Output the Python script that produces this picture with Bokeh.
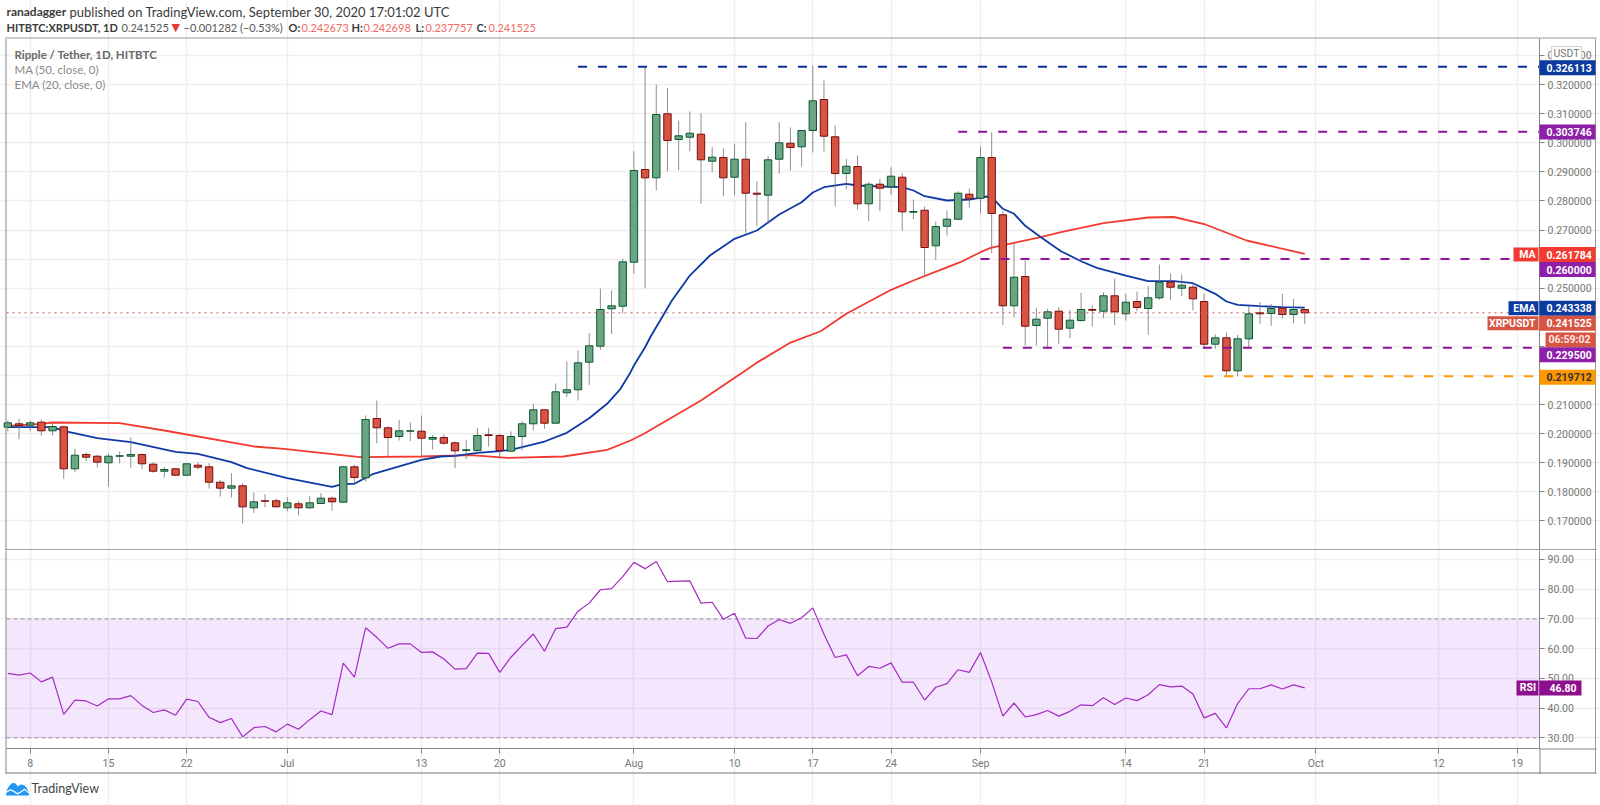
from bokeh.plotting import figure
from bokeh.layouts import column
from bokeh.models import Range1d, FixedTicker, Label, BoxAnnotation, PolyAnnotation, NumeralTickFormatter
from bokeh.embed import file_html
from bokeh.resources import INLINE

# ---- data: day number 0 = 8 June 2020 ----
first_day = -2
opens = [.2022,.20337,.20289,.20392,.20096,.20234,.1879,.19281,.19223,.18996,.19223,.19223,.19281,.18948,.18707,.1879,.1857,.18914,.18858,.18329,.18123,.18205,.17449,.1769,.1769,.17449,.17587,.17449,.17597,.17779,
 .17642,.18858,.1848,.20519,.202,.199,.20083,.20083,.19808,.19866,.19684,.19419,.19419,.19959,.19935,.19395,.199,.20337,.20818,.20358,.21403,.21506,.22455,.23005,.24291,.2438,.25893,.2908,.28794,.30995,
 .30111,.3019,.30293,.29365,.29492,.28815,.29434,.28265,.28196,.29434,.29984,.2986,.30421,.31486,.30204,.28942,.29183,.279,.28574,.28485,.28815,.27612,.2768,.26457,.2713,.27371,.28231,.28093,.29492,.27522,
 .24394,.25401,.23716,.23967,.24208,.23624,.23888,.24267,.24208,.24738,.24119,.24542,.24301,.24669,.25205,.24999,.25033,.24542,.23074,.23294,.22159,.23259,.24153,.24129,.24311,.24095,.242673]
highs = [.2045,.20509,.2045,.20485,.20371,.20279,.19477,.1935,.19271,.19306,.19385,.19876,.19306,.19017,.18858,.18811,.18982,.19017,.18982,.18398,.18639,.18295,.17975,.17906,.17769,.17813,.17676,.17848,.17951,.17838,
 .18893,.18927,.20622,.21138,.20244,.20474,.20382,.20622,.19959,.1997,.19728,.19787,.202,.202,.19993,.20072,.20426,.21025,.20829,.21722,.22479,.22857,.23452,.24989,.2492,.2602,.29709,.32576,.32002,.31875,
 .30764,.31074,.31015,.29846,.29812,.29963,.30706,.28678,.29537,.30706,.30524,.30421,.32655,.3214,.30592,.29448,.29561,.28643,.2876,.29159,.28953,.28038,.27808,.27292,.2767,.28334,.28427,.2987,.30362,.27646,
 .26546,.25951,.24325,.24291,.24346,.24256,.24841,.24404,.24861,.25322,.24806,.24885,.25068,.25814,.25504,.2547,.25171,.24806,.23407,.23476,.23397,.24404,.24518,.24463,.24806,.24634,.242698]
lows = [.2008,.19808,.20083,.19924,.19935,.18446,.18673,.19051,.18835,.18181,.18982,.18824,.1879,.18652,.18491,.18549,.18549,.18756,.18113,.17838,.17803,.1691,.17277,.1747,.17459,.17332,.17195,.17415,.17573,.17346,
 .17621,.18274,.18353,.1967,.19223,.19763,.19739,.19189,.19453,.19615,.1881,.1912,.1934,.19557,.19189,.19385,.19419,.20107,.20165,.20347,.21252,.21138,.21678,.22881,.23431,.24139,.25494,.24999,.28358,.29021,
 .29056,.29709,.27901,.28987,.28162,.28196,.26869,.27131,.27213,.28932,.29045,.29183,.29664,.29699,.27818,.28403,.27705,.27302,.27646,.2821,.26972,.27371,.25411,.25975,.26811,.27361,.27763,.27557,.26202,.2374,
 .24002,.23029,.23029,.2295,.23087,.2328,.23854,.23682,.23967,.23727,.23888,.24208,.23397,.246,.246,.24724,.24232,.22936,.22916,.22008,.2197,.2295,.23775,.23706,.23957,.23795,.237757]
closes = [.2037,.20279,.20371,.20096,.20244,.1879,.19257,.19189,.19017,.19223,.19237,.19281,.18962,.18707,.18766,.1857,.18962,.18845,.18329,.18123,.18205,.17483,.17655,.17676,.17483,.17621,.17449,.17621,.17779,.17655,
 .18858,.18491,.20485,.202,.19866,.20096,.20096,.19842,.19866,.1967,.19409,.19443,.19935,.19935,.19419,.199,.20337,.20818,.20358,.21437,.21506,.22434,.23019,.24267,.24394,.25906,.29045,.28794,.30971,.30077,
 .30238,.30328,.29413,.29503,.28794,.29434,.28265,.28231,.29413,.29998,.29836,.30421,.31442,.30225,.28942,.29193,.279,.28574,.28437,.2885,.27625,.27636,.26398,.2712,.27371,.28265,.28072,.29492,.27567,.24394,
 .25377,.23692,.23933,.24187,.23589,.23899,.24267,.24243,.24738,.24187,.24518,.24335,.24669,.25205,.25033,.25102,.24634,.23074,.23294,.22159,.23259,.24119,.24119,.24301,.24095,.24267,.241525]

ema_days = [-2,2,3,6,9,13,15,18,19.4,23,27,28,29,30.7,35,36.7,38,40,42,43,46,48,50,51.6,52.8,53.7,54,55,55.5,57.4,59,60.8,63,65,67,69,70,71,73,74,76,78,79,80,82,84,85.6,86.3,87,88,89,90.4,92.2,94,95.4,98,100,102.3,104,106,107,108,110,112,114]
ema_vals = [.2022,.2022,.20096,.19842,.19704,.19374,.19306,.19017,.18811,.18467,.18171,.18274,.18274,.18618,.19099,.19213,.19237,.1934,.19395,.19443,.19728,.20027,.20529,.21025,.2154,.22111,.22341,.2297,.23338,.24576,.25435,.26123,.26697,.26983,.27533,.27956,.28289,.28471,.28588,.2853,.28495,.28471,.28358,.28162,.28014,.28048,.28152,.28014,.27729,.27557,.27144,.26752,.26271,.25927,.257,.25435,.2524,.2524,.25171,.24806,.24542,.24428,.2438,.24346,.24334]
ma_days = [-2,1,2,8,12,20,22.7,29.5,35,39.4,42.7,47.7,51.6,53.7,54.9,60,65,68,70.7,73,77,79,80.5,83.2,85,85.9,88,90.4,92.2,96,100,102.3,105,108.8,114]
ma_vals = [.20268,.20337,.20382,.20358,.20107,.19557,.19477,.19189,.19213,.19257,.19168,.19213,.19443,.19763,.19993,.21138,.2244,.2313,.2352,.24119,.24944,.25264,.25494,.25893,.26237,.26388,.2656,.26752,.26924,.2724,.2743,.27447,.27206,.26639,.261784]
rsi_vals = [51.7,51.1,51.8,48.8,50.4,37.9,42.7,42.4,40.7,43.1,43.1,44.2,40.9,38.5,39.4,37.6,43.0,42.2,36.9,35.1,36.5,30.3,33.4,33.8,32.0,34.6,32.9,36.1,39.0,37.8,
 55.1,50.4,67.0,63.8,60.1,61.6,61.6,58.7,58.9,56.5,53.1,53.3,58.5,58.4,52.0,57.1,61.1,64.9,59.1,66.7,67.2,72.6,75.3,79.8,80.2,84.2,89.0,86.9,89.3,82.5,
 82.7,82.8,75.3,75.6,69.9,71.9,63.5,63.4,67.6,69.8,68.5,70.4,73.7,64.8,57.0,57.9,50.9,54.0,53.4,55.2,48.7,48.7,42.7,47.0,48.2,52.9,52.0,58.7,48.8,37.3,
 41.7,37.0,37.8,39.2,37.3,38.9,41.1,40.8,43.5,41.2,43.4,42.5,44.5,47.9,47.1,47.4,44.7,36.7,38.2,33.3,41.5,46.5,46.5,47.8,46.4,47.8,46.8]

tick_days = [0,7,14,23,35,42,54,63,70,77,85,98,105,115,126,133]
tick_labels = ["8","15","22","Jul","13","20","Aug","10","17","24","Sep","14","21","Oct","12","19"]
price_ticks = [.17,.18,.19,.20,.21,.22,.23,.24,.25,.26,.27,.28,.29,.30,.31,.32,.33]
rsi_ticks = [30,40,50,60,70,80,90]
level_values = [.326113,.303746,.26,.2295,.219712]
level_start_days = [49,83,85,87,105]
level_colors = ["#0d2f9a","#8e1599","#8e1599","#8e1599","#ff9800"]
last_close = .241525

# ---- layout: page pixels; each frame fills its whole canvas, so that texts outside the panes are kept ----
F_L, F_R = 6, 1539
P_T, P_B, R_B = 38, 550, 748
XL, XR = -2.12, 135.0           # day at the pane's left edge and at the price axis
PB_V, PT_V = .15981, .33584     # price at the pane's bottom and top
RB_V, RT_V = 26.4, 93.0         # RSI at the pane's bottom and top
GRID, AXISC, TXT = "#efefef", "#868686", "#777777"
AXF = "Roboto"
LATO = "Lato"
AFS = "10.5px"
px_x = (XR - XL) / (F_R - F_L)
px_p = (PT_V - PB_V) / (P_B - P_T)
px_r = (RT_V - RB_V) / (R_B - P_B)
shared_x = Range1d(XL - F_L * px_x, XR + (1600 - F_R) * px_x)

price = figure(width=1600, height=P_B, output_backend="svg", toolbar_location=None,
    x_range=shared_x, y_range=Range1d(PB_V, PT_V + P_T * px_p),
    x_axis_location=None, y_axis_location="right",
    min_border_left=0, min_border_right=0, min_border_top=0, min_border_bottom=0)
rsi = figure(width=1600, height=805 - P_B, output_backend="svg", toolbar_location=None,
    x_range=shared_x, y_range=Range1d(RB_V - (805 - R_B) * px_r, RT_V),
    y_axis_location="right",
    min_border_left=0, min_border_right=0, min_border_top=0, min_border_bottom=0)

for f, ticks, yb in ((price, price_ticks, (PB_V, PT_V)), (rsi, rsi_ticks, (RB_V, RT_V))):
    f.background_fill_color = "white"
    f.border_fill_color = "white"
    f.outline_line_color = None
    f.xgrid.ticker = FixedTicker(ticks=tick_days)
    f.ygrid.ticker = FixedTicker(ticks=ticks)
    f.xgrid.grid_line_color = GRID
    f.ygrid.grid_line_color = GRID
    f.xgrid.grid_line_width = 1.5
    f.ygrid.grid_line_width = 1.5
    f.xgrid.bounds = yb
    f.ygrid.bounds = (XL, XR)
    ax = f.yaxis[0]
    ax.fixed_location = XR
    ax.bounds = yb
    ax.ticker = FixedTicker(ticks=ticks)
    ax.axis_line_color = AXISC
    ax.major_tick_line_color = AXISC
    ax.minor_tick_line_color = None
    ax.major_tick_in = 0
    ax.major_tick_out = 5
    ax.major_label_text_color = TXT
    ax.major_label_text_font = AXF
    ax.major_label_text_font_size = AFS
    ax.major_label_standoff = 3
price.yaxis[0].formatter = NumeralTickFormatter(format="0.000000")
rsi.yaxis[0].formatter = NumeralTickFormatter(format="0.00")

xa = rsi.xaxis[0]
xa.fixed_location = RB_V
xa.bounds = (XL, XR)
xa.ticker = FixedTicker(ticks=tick_days)
xa.major_label_overrides = {d: t for d, t in zip(tick_days, tick_labels)}
xa.axis_line_color = AXISC
xa.major_tick_line_color = AXISC
xa.minor_tick_line_color = None
xa.major_tick_in = 0
xa.major_tick_out = 5
xa.major_label_text_color = TXT
xa.major_label_text_font = AXF
xa.major_label_text_font_size = AFS
xa.major_label_standoff = 3

# ---- indicators under the candles ----
days = [first_day + i for i in range(len(closes))]
price.line(ma_days, ma_vals, line_color="#f23a30", line_width=1.8)
price.line(ema_days, ema_vals, line_color="#0f3aa5", line_width=1.8)

# ---- candles ----
up = [c >= o for o, c in zip(opens, closes)]
price.segment(days, highs, days, lows, line_color="#737375", line_width=1, line_alpha=0.8)
gd = [d for d, u in zip(days, up) if u]
rd = [d for d, u in zip(days, up) if not u]
price.vbar(gd, 0.66, [o for o, u in zip(opens, up) if u], [c for c, u in zip(closes, up) if u],
           fill_color="#6ba583", line_color="#0a5a30", line_width=1)
price.vbar(rd, 0.66, [o for o, u in zip(opens, up) if not u], [c for c, u in zip(closes, up) if not u],
           fill_color="#d75442", line_color="#7a0c0c", line_width=1)

# ---- levels ----
price.line([XL, XR], [last_close, last_close], line_color="#c9554a", line_dash="dotted", line_width=1)
for v, s, c in zip(level_values, level_start_days, level_colors):
    price.line([s, XR], [v, v], line_color=c, line_width=2, line_dash=[9, 11])

def scr(fig, bottom_px):
    def box(x0, x1, y0, y1, color, border=None):
        fig.add_layout(BoxAnnotation(left=x0, right=x1, top=bottom_px-y0, bottom=bottom_px-y1,
            left_units="screen", right_units="screen", top_units="screen", bottom_units="screen",
            fill_color=color, fill_alpha=1, line_color=border, line_alpha=1 if border else 0))
    def txt(x, y, s, color="#ffffff", size=AFS, font=AXF, style="normal", align="left"):
        fig.add_layout(Label(x=x, y=bottom_px-y, x_units="screen", y_units="screen", text=s,
            text_color=color, text_font=font, text_font_size=size, text_font_style=style,
            text_align=align, text_baseline="middle"))
    return box, txt

pbox, ptxt = scr(price, P_B)
rbox, rtxt = scr(rsi, 805)

# frame lines
pbox(5, 6, P_T, P_B, AXISC)
pbox(5, 1596, P_T-1, P_T, "#9a9a9a")
pbox(1594.5, 1595.5, P_T, P_B, "#9a9a9a")
pbox(5, 1596, P_B-1, P_B, "#444444")
rbox(5, 6, P_B, R_B+25, AXISC)
rbox(1594.5, 1595.5, P_B, R_B+25, "#9a9a9a")
rbox(F_R, F_R+1, R_B, R_B+25, AXISC)
rbox(F_R, 1596, R_B, R_B+1, AXISC)
rbox(5, 1596, R_B+24, R_B+25, "#777777")

# header
DK = "#3a3a3a"
RED = "#f06a62"
ptxt(6, 11, "ranadagger", DK, "12px", LATO, "bold")
ptxt(69, 11, "published on TradingView.com, September 30, 2020 17:01:02 UTC", DK, "13px", LATO)
ptxt(6, 27, "HITBTC:XRPUSDT, 1D", DK, "11px", LATO, "bold")
ptxt(121, 27, "0.241525", "#555555", "11px", LATO)
ptxt(171, 27, "▼", "#e53935", "11px", "DejaVu Sans")
ptxt(183, 27, "−0.001282 (−0.53%)", "#555555", "11px", LATO)
for lx, ls, vx, vs in ((288, "O:", 301, "0.242673"), (351, "H:", 363, "0.242698"),
                       (415, "L:", 425, "0.237757"), (476, "C:", 488, "0.241525")):
    ptxt(lx, 27, ls, DK, "11px", LATO, "bold")
    ptxt(vx, 27, vs, RED, "11px", LATO)

# legend
ptxt(14, 54, "Ripple / Tether, 1D, HITBTC", "#6a6a6a", "11.5px", LATO, "bold")
ptxt(14, 69, "MA (50, close, 0)", "#8a8a8a", "11.5px", LATO)
ptxt(14, 84, "EMA (20, close, 0)", "#8a8a8a", "11.5px", LATO)

# price badges
BW = "bold"
def badge(y, s, fill, color="#ffffff"):
    pbox(F_R, 1595, y-7.5, y+7.5, fill)
    ptxt(1546, y, s, color, AFS, AXF, BW)
def side(x0, y, s, fill):
    pbox(x0, F_R-1, y-7, y+7, fill)
    ptxt(F_R-4, y, s, "#ffffff", AFS, AXF, BW, "right")

pbox(1551, 1581, 46, 60, "#ffffff", "#cfcfcf")
ptxt(1566, 53, "USDT", "#777777", AFS, AXF, "normal", "center")
badge(67.3, "0.326113", "#0d3a9e")
badge(131.5, "0.303746", "#8e1fa8")
side(1513, 254, "MA", "#f23a30")
badge(254, "0.261784", "#f23a30")
badge(269, "0.260000", "#8e1fa8")
side(1508, 307.7, "EMA", "#0d3a9e")
badge(307.7, "0.243338", "#0d3a9e")
side(1487, 322.7, "XRPUSDT", "#d75442")
badge(322.7, "0.241525", "#d75442")
pbox(1545, 1595, 332, 346.5, "#d75442")
ptxt(1548, 339.3, "06:59:02", "#ffe9e5", AFS, AXF, BW)
badge(354.3, "0.229500", "#8e1fa8")
badge(376.7, "0.219712", "#ff9800", "#333333")

# ---- RSI ----
rsi.add_layout(BoxAnnotation(left=XL, right=XR, bottom=30, top=70, fill_color="#a32fee", fill_alpha=0.12, line_alpha=0))
for lvl in (30, 70):
    rsi.line([XL, XR], [lvl, lvl], line_color="#9a8f9e", line_dash=[4, 3], line_width=1)
rsi.line(days, rsi_vals, line_color="#a52bbd", line_width=1.2)

rbox(1516, F_R-1, 680, 695, "#8e0f8e")
rtxt(1527.5, 687.3, "RSI", "#ffffff", AFS, AXF, BW, "center")
rbox(F_R, 1581, 680, 695, "#8e0f8e")
rtxt(1549, 687.3, "46.80", "#ffffff", AFS, AXF, BW)

# ---- logo ----
def poly(xs, ys, color):
    rsi.add_layout(PolyAnnotation(xs=list(xs), ys=[805-y for y in ys],
        xs_units="screen", ys_units="screen", fill_color=color, fill_alpha=1, line_alpha=0))
poly([5.5,6,8,10,12,14,16,17,19,21,24,26,28,28.5,5.5],
     [795,790,786.5,784,782.5,782.5,784,786,784.5,784,785,787,791,795,795], "#2196f3")
poly([5.5,10,13,17,20,24,28,28,24,20,17,13,10,5.5],
     [791,788.5,790,792.5,791,788,791.5,793,789.5,792.5,794,791.5,790,792.5], "#ffffff")
rtxt(31, 788, "TradingView", "#444444", "12.5px", LATO)

layout = column(price, rsi, spacing=0)
open("out.html", "w").write(file_html(layout, INLINE))
